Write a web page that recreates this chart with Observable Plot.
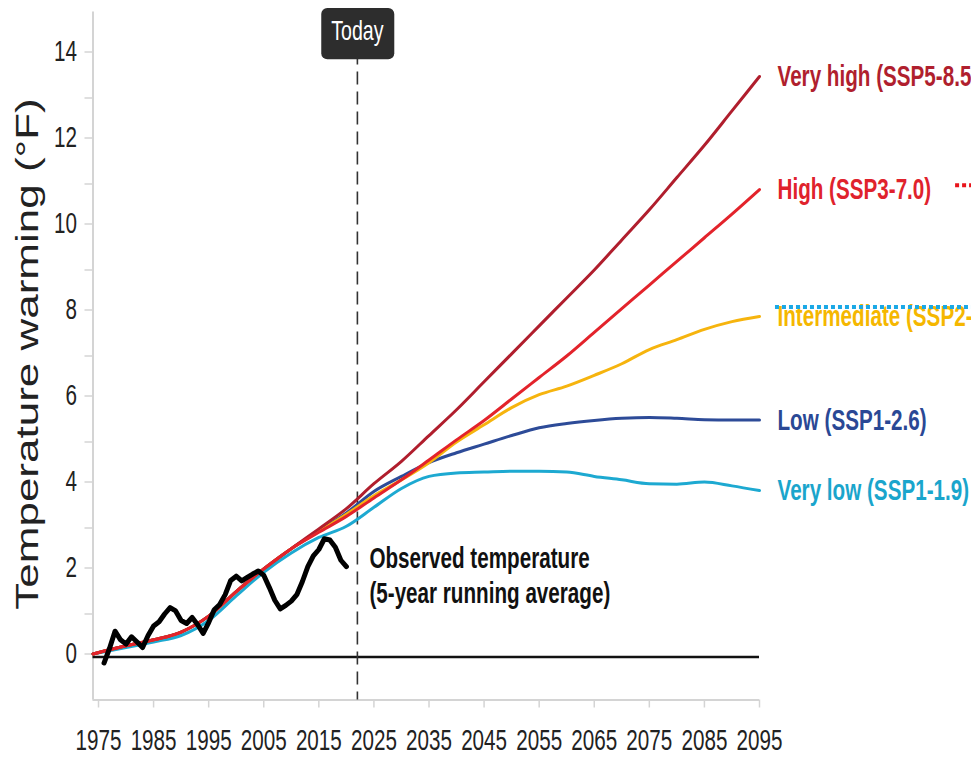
<!DOCTYPE html>
<html>
<head>
<meta charset="utf-8">
<script src="https://cdn.jsdelivr.net/npm/d3@7"></script>
<script src="https://cdn.jsdelivr.net/npm/@observablehq/plot@0.6"></script>
<style>
  html, body { margin: 0; padding: 0; background: #fff; }
  #chart { width: 971px; height: 762px; overflow: hidden; }
</style>
</head>
<body>
<div id="chart"></div>
<script>
// ---- Projected warming by scenario (°F, relative to the 1970s baseline) ----
const years = [1974, 1980, 1985, 1990, 1995, 2000, 2005, 2010, 2015, 2020, 2025, 2030, 2035,
               2040, 2045, 2050, 2055, 2060, 2065, 2070, 2075, 2080, 2085, 2090, 2095];
const veryHigh     = [0.07, 0.26, 0.40, 0.58, 0.95, 1.52, 2.05, 2.52, 2.98, 3.45, 4.03, 4.55, 5.15,
                      5.75, 6.40, 7.05, 7.70, 8.35, 9.00, 9.70, 10.40, 11.15, 11.90, 12.70, 13.50];
const high         = [0.07, 0.26, 0.40, 0.58, 0.95, 1.52, 2.05, 2.52, 2.90, 3.27, 3.70, 4.12, 4.58,
                      5.05, 5.50, 6.00, 6.50, 7.00, 7.55, 8.10, 8.65, 9.20, 9.75, 10.30, 10.87];
const intermediate = [0.07, 0.26, 0.40, 0.58, 0.95, 1.52, 2.05, 2.52, 2.92, 3.32, 3.75, 4.12, 4.52,
                      5.00, 5.40, 5.80, 6.10, 6.30, 6.55, 6.82, 7.15, 7.38, 7.62, 7.80, 7.92];
const low          = [0.07, 0.26, 0.40, 0.58, 0.95, 1.52, 2.05, 2.52, 2.93, 3.35, 3.85, 4.20, 4.52,
                      4.75, 4.95, 5.15, 5.33, 5.43, 5.50, 5.55, 5.57, 5.55, 5.52, 5.51, 5.51];
const veryLow      = [0.07, 0.22, 0.35, 0.50, 0.85, 1.42, 1.97, 2.42, 2.78, 3.04, 3.48, 3.92, 4.20,
                      4.28, 4.30, 4.32, 4.32, 4.30, 4.20, 4.12, 4.03, 4.02, 4.07, 3.98, 3.87];

const scenarioNames  = ["Very low (SSP1-1.9)", "Low (SSP1-2.6)", "Intermediate (SSP2-4.5)",
                        "Very high (SSP5-8.5)", "High (SSP3-7.0)"];
const scenarioValues = [veryLow, low, intermediate, veryHigh, high];
const lineColors     = ["#1da9d1", "#2d4b98", "#f6b40e", "#b01e2d", "#e3232b"];
const labelColors    = ["#1aa5cc", "#2a4895", "#f5b700", "#b01f2e", "#e0222c"];

// ---- Observed temperature, 5-year running average (°F) ----
const observedYears  = [1976, 1977, 1978, 1979, 1980, 1981, 1982, 1983, 1984, 1985, 1986, 1987, 1988,
                        1989, 1990, 1991, 1992, 1993, 1994, 1995, 1996, 1997, 1998, 1999, 2000, 2001,
                        2002, 2003, 2004, 2005, 2006, 2007, 2008, 2009, 2010, 2011, 2012, 2013, 2014,
                        2015, 2016, 2017, 2018, 2019, 2020];
const observedValues = [-0.14, 0.20, 0.60, 0.40, 0.30, 0.47, 0.35, 0.22, 0.50, 0.72, 0.82, 1.00, 1.15,
                        1.07, 0.85, 0.78, 0.92, 0.75, 0.55, 0.80, 1.10, 1.22, 1.45, 1.78, 1.88, 1.77,
                        1.85, 1.93, 2.00, 1.90, 1.62, 1.32, 1.12, 1.20, 1.30, 1.45, 1.75, 2.10, 2.35,
                        2.50, 2.75, 2.72, 2.55, 2.25, 2.10];
const observedLabel = "Observed temperature\n(5-year running average)";

// ---- Axes and annotations ----
const todayYear   = 2022;
const todayLabel  = "Today";
const xDomain     = [1974, 2095];
const yDomain     = [-1, 15];
const xTicks      = [1975, 1985, 1995, 2005, 2015, 2025, 2035, 2045, 2055, 2065, 2075, 2085, 2095];
const yTicks      = [0, 2, 4, 6, 8, 10, 12, 14];
const yMinorTicks = [1, 3, 5, 7, 9, 11, 13];
const yTitle      = "Temperature warming (°F)";

// dotted leader lines running off the right edge
const leaderLines = [
  {value: 10.97, from: 2130.6, color: "#e8141b"},
  {value: 8.14,  from: 2097.9, color: "#1aa8e6"}
];

const font = "'Liberation Sans', Arial, Helvetica, sans-serif";
const condense = 0.7;   // horizontal squeeze applied to the horizontal labels
const axisGray = "#d4d4d4";

const scenarioMarks = scenarioValues.map((vals, i) =>
  Plot.line(years, {x: d => d, y: (d, j) => vals[j], stroke: lineColors[i],
                    strokeWidth: 3, curve: "monotone-x"}));

const endLabelMarks = scenarioValues.map((vals, i) =>
  Plot.text([scenarioNames[i]], {x: () => years[years.length - 1], y: () => vals[vals.length - 1],
            text: d => d, fill: labelColors[i], dx: 18, textAnchor: "start",
            fontWeight: "bold", fontSize: 29.5}));

const chart = Plot.plot({
  width: 971,
  height: 762,
  marginLeft: 92.5,
  marginRight: 212,
  marginTop: 11.5,
  marginBottom: 62.5,
  style: {fontFamily: font, fontSize: "29.5px", background: "#fff", color: "#222", overflow: "visible"},
  x: {domain: xDomain},
  y: {domain: yDomain},
  marks: [
    Plot.ruleX([xDomain[0]], {stroke: axisGray, strokeWidth: 2}),
    Plot.ruleY([yDomain[0]], {stroke: axisGray, strokeWidth: 2}),
    Plot.axisY({ticks: yMinorTicks, tickFormat: () => "", tickSize: 8, stroke: axisGray,
                strokeWidth: 1.5, label: null}),
    Plot.axisY({ticks: yTicks, tickFormat: "d", tickSize: 8, tickPadding: 8, stroke: axisGray,
                strokeWidth: 1.5, fill: "#222", dy: -3, label: null}),
    Plot.axisX({ticks: xTicks, tickFormat: "d", tickSize: 8, tickPadding: 21, stroke: axisGray,
                strokeWidth: 1.5, fill: "#222", label: null}),
    Plot.ruleY([0], {stroke: "#111", strokeWidth: 2.5}),
    Plot.ruleX([todayYear], {stroke: "#333", strokeWidth: 1.6, strokeDasharray: "13,7"}),
    ...scenarioMarks,
    Plot.line(observedYears, {x: d => d, y: (d, i) => observedValues[i], stroke: "#000",
                              strokeWidth: 5, strokeLinejoin: "round", strokeLinecap: "round"}),
    ...endLabelMarks,
    Plot.text([observedLabel], {x: () => todayYear, y: () => observedValues[observedValues.length - 1],
              text: d => d, dx: 12, dy: 8, textAnchor: "start", lineAnchor: "middle",
              lineHeight: 1.17, fontWeight: "bold", fontSize: 29.5, fill: "#111"}),
    Plot.ruleY(leaderLines, {y: "value", x1: "from", x2: () => 2140, stroke: "color",
                             strokeWidth: 4, strokeDasharray: "4,3"}),
    Plot.text([todayLabel], {x: () => todayYear, frameAnchor: "top", dy: 19.5, text: d => d,
              textAnchor: "middle", lineAnchor: "middle", fill: "#fff", fontSize: 28}),
    Plot.text([yTitle], {frameAnchor: "left", dx: -64.5, dy: -2, rotate: -90, text: d => d,
              textAnchor: "middle", lineAnchor: "middle", fontSize: 44, fill: "#222"})
  ]
});

document.getElementById("chart").appendChild(chart);

// Narrow the horizontal lettering by squeezing each label about its own anchor
// (any numeric x offset is folded into the transform first); the rotated axis
// title is squeezed across its height instead.
chart.querySelectorAll("text").forEach(t => {
  if (!t.textContent) return;
  const tr = t.getAttribute("transform") || "";
  if (t.textContent === yTitle) {
    t.setAttribute("transform", tr + " scale(1,0.7)");
    return;
  }
  const xAttr = t.getAttribute("x");
  const x = xAttr !== null && /^-?[\d.]+$/.test(xAttr) ? +xAttr : 0;
  if (x) t.setAttribute("x", 0);
  t.setAttribute("transform", tr + ` translate(${x},0) scale(${condense},1)`);
});

// Dark rounded badge behind the "Today" marker label.
const svgBox = chart.getBoundingClientRect();
chart.querySelectorAll("text").forEach(t => {
  if (t.textContent !== todayLabel) return;
  const b = t.getBoundingClientRect();
  const rect = document.createElementNS("http://www.w3.org/2000/svg", "rect");
  rect.setAttribute("x", b.left - svgBox.left - 10);
  rect.setAttribute("y", b.top - svgBox.top - 7);
  rect.setAttribute("width", b.width + 20);
  rect.setAttribute("height", b.height + 20);
  rect.setAttribute("rx", 6);
  rect.setAttribute("fill", "#2d2d2d");
  const g = t.closest("g");
  g.parentNode.insertBefore(rect, g);
});
</script>
</body>
</html>
